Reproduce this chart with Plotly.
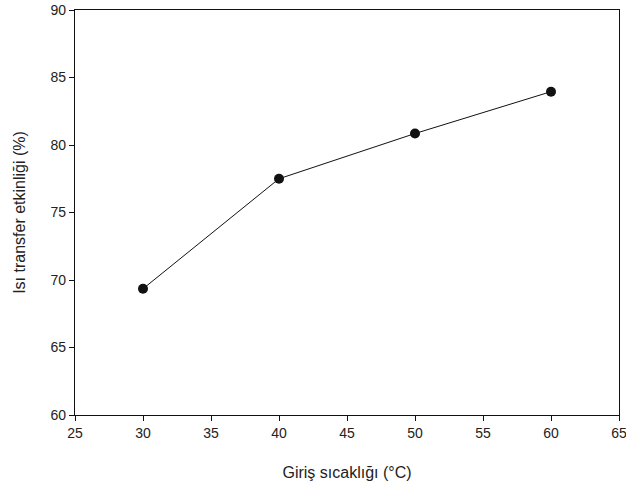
import plotly.graph_objects as go

temps = [30, 40, 50, 60]
efficiency = [69.35, 77.5, 80.85, 83.95]
x_ticks = [25, 30, 35, 40, 45, 50, 55, 60, 65]
y_ticks = [60, 65, 70, 75, 80, 85, 90]

FONT = "Liberation Sans, Arial"

fig = go.Figure()
fig.add_trace(go.Scatter(
    x=temps, y=efficiency, mode="lines+markers",
    line=dict(color="#111111", width=1),
    marker=dict(color="#111111", size=10),
    showlegend=False, cliponaxis=False,
))

axis_common = dict(
    showgrid=False, zeroline=False, showline=True, linecolor="#111111", linewidth=1.3,
    ticks="outside", ticklen=5, tickwidth=1, tickcolor="#111111",
    tickfont=dict(family=FONT, size=14, color="#222222"),
    mirror=True, automargin=False, ticklabeloverflow="allow",
)

fig.update_layout(
    width=626, height=490,
    margin=dict(l=75, r=7, t=10, b=75),
    paper_bgcolor="white", plot_bgcolor="white",
    xaxis=dict(range=[25, 65], tickvals=x_ticks,
               title=dict(text="Giriş sıcaklığı (°C)", standoff=26,
                          font=dict(family=FONT, size=16, color="#222222")),
               **axis_common),
    yaxis=dict(range=[60, 90], tickvals=y_ticks,
               title=dict(text="Isı transfer etkinliği (%)", standoff=20,
                          font=dict(family=FONT, size=16, color="#222222")),
               **axis_common),
)

fig.write_html(
    "out.html",
    config={"displayModeBar": False},
    post_script="document.body.style.margin='0';document.body.style.overflow='hidden';",
)
